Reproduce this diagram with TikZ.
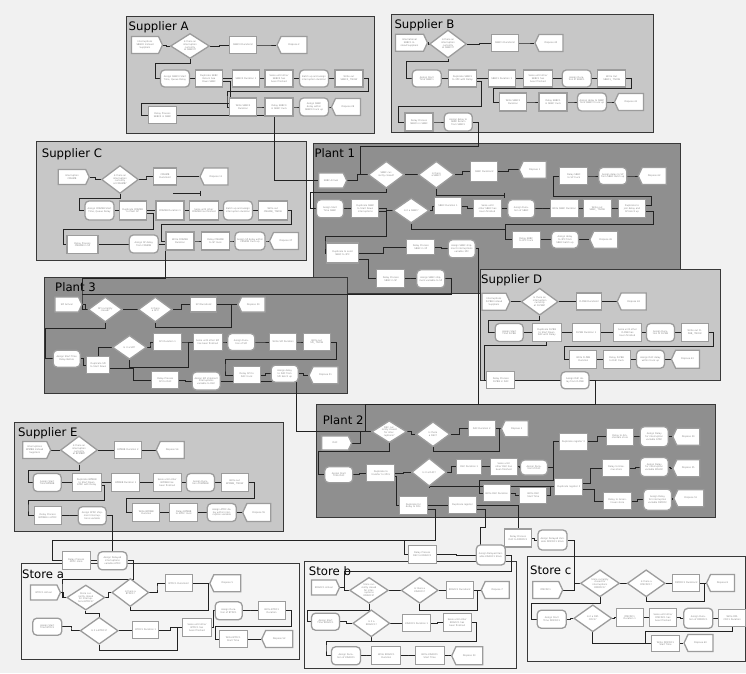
\documentclass[tikz,border=0pt]{standalone}
\usepackage{fontspec}
\setmainfont{DejaVu Sans}
\usetikzlibrary{shapes.geometric,shapes.symbols,calc}
\definecolor{bgc}{HTML}{F1F1F1}
\definecolor{supc}{HTML}{C7C7C7}
\definecolor{plc}{HTML}{8F8F8F}
\definecolor{stc}{HTML}{F4F4F4}
\definecolor{pbord}{HTML}{383838}
\definecolor{nbord}{HTML}{9C9C9C}
\definecolor{ntext}{HTML}{858585}
\definecolor{lcol}{HTML}{222222}
\pgfdeclarelayer{bg}\pgfdeclarelayer{lines}\pgfsetlayers{bg,lines,main}
\newcommand\nfont{\fontsize{2.3}{2.7}\selectfont}
\newcommand\tfont{\fontsize{11.7}{14}\selectfont}
\tikzset{
 tw/.code={\pgfmathsetlengthmacro\mytw{#1}\edef\mytwnext{\noexpand\tikzset{text width=\mytw}}\mytwnext},
 nb/.style={draw=nbord, line width=1.3pt, fill=white, inner sep=0.4pt, text=ntext, font=\nfont, align=center},
 proc/.style 2 args={nb, rectangle, minimum width=#1pt, minimum height=#2pt, tw={#1pt-4pt}},
 asg/.style 2 args={proc={#1}{#2}, rounded corners=4pt},
 dec/.style 2 args={nb, diamond, aspect=1.6, minimum width=#1pt, minimum height=#2pt, tw={#1pt*0.45}},
 crt/.style 2 args={nb, signal, signal to=east, signal pointer angle=130, minimum width=#1pt, minimum height=#2pt, tw={#1pt-9pt}},
 dsp/.style 2 args={nb, signal, signal to=west, signal pointer angle=130, minimum width=#1pt, minimum height=#2pt, tw={#1pt-9pt}},
 conn/.style={draw=lcol, line width=0.7pt},
 stepto/.style={to path={-| ($(\tikztostart)!0.5!(\tikztotarget)$) |- (\tikztotarget)}},
 panel/.style={draw=pbord, line width=0.8pt},
 ptitle/.style={anchor=base west, inner sep=0pt, font=\tfont, text=black},
}
\newcommand\nPR[6]{\node[proc={#4}{#5}] (#1) at (#2,#3) {#6};}
\newcommand\nAS[6]{\node[asg={#4}{#5}] (#1) at (#2,#3) {#6};}
\newcommand\nDE[6]{\node[dec={#4}{#5}] (#1) at (#2,#3) {#6};}
\newcommand\nCR[6]{\node[crt={#4}{#5}] (#1) at (#2,#3) {#6};}
\newcommand\nDS[6]{\node[dsp={#4}{#5}] (#1) at (#2,#3) {#6};}
\newcommand\hlink[2]{\draw[conn] (#1.east) to[stepto] (#2.west);}
\begin{document}
\begin{tikzpicture}[x=1pt,y=-1pt]
\useasboundingbox (0,0) rectangle (746,673);
\begin{pgfonlayer}{bg}
\fill[bgc] (0,0) rectangle (746,673);
\draw[panel,fill=plc] (313.3,143) rectangle (680,293); \node[ptitle] at (314.3,157) {Plant 1};
\draw[panel,fill=supc] (126,16) rectangle (374,133); \node[ptitle] at (128.5,30.5) {Supplier A};
\draw[panel,fill=supc] (391.7,14) rectangle (653.3,132); \node[ptitle] at (394.3,28.5) {Supplier B};
\draw[panel,fill=supc] (36.7,141) rectangle (306,260); \node[ptitle] at (41.7,157.5) {Supplier C};
\draw[panel,fill=plc] (44.3,277) rectangle (347,393); \node[ptitle] at (55,291) {Plant 3};
\draw[panel,fill=supc] (480,269) rectangle (720,380); \node[ptitle] at (481,283.5) {Supplier D};
\draw[panel,fill=plc] (316,404) rectangle (715,517); \node[ptitle] at (322.7,424) {Plant 2};
\draw[panel,fill=supc] (14,422.3) rectangle (283,531.7); \node[ptitle] at (18,436.5) {Supplier E};
\draw[panel,fill=stc] (21.3,563.3) rectangle (299.5,659.3); \node[ptitle] at (22,578.5) {Store a};
\draw[panel,fill=stc] (304,561.7) rectangle (516.3,668.3); \node[ptitle] at (308.7,575.5) {Store b};
\draw[panel,fill=stc] (527.3,556.7) rectangle (745.6,661.7); \node[ptitle] at (530,574.5) {Store c};
\end{pgfonlayer}

% ---------- Supplier A
\nCR{aC}{145}{45}{31}{17}{Interruptions SBBC0 Instead Suppliers}
\nDE{aD1}{190}{46}{39}{25}{Is there an interruption currently at SBBC0?}
\nPR{aP1}{243}{45}{27}{17}{SBBC0 Duration2}
\nDS{aX1}{294}{45}{30}{17}{Dispose 2}
\nAS{aA1}{175}{78.5}{29}{17}{Assign SBBC0 Start Time, Queue Delay}
\nPR{aU1}{209}{78.5}{27}{17}{Duplicate SBBC Return Sea Down SBBC}
\nPR{aP2}{246}{78.5}{27}{17}{SBBC0 Duration 1}
\nPR{aS1}{279}{78.5}{28}{17}{Seize until other SBBC0 has been finished}
\nAS{aB1}{314}{78.5}{29}{17}{Batch up and assign interruption duration}
\nPR{aW1}{349}{78.5}{28}{17}{Write out SBBC0\_ TNOW}
\nPR{aW2}{243}{107}{27}{18}{Write SBBC0 Duration}
\nPR{aL1}{279}{107}{28}{18}{Delay SBBC0 in SBBC truck}
\nAS{aA2}{314}{107}{29}{18}{Assign SBBC delay within SBBC0 truck up}
\nDS{aX2}{348}{107}{29}{17}{Dispose 28}
\nPR{aL2}{162.5}{115}{28}{17}{Delay Process SBBC0 in SBBC}
% ---------- Supplier B
\nCR{bC}{409.5}{42.7}{32}{17}{International SBBC1 Instead Suppliers}
\nDE{bD1}{448}{44}{37}{28}{Is there an interruption currently at SBBC1?}
\nPR{bP1}{505}{43}{27}{17}{SBBC1 Duration2}
\nDS{bX1}{551}{43}{28}{17}{Dispose 45}
\nAS{bA1}{426.7}{78.5}{29}{17}{Assign Start Time SBBC1}
\nPR{bU1}{462.5}{78.5}{28}{17}{Duplicate SBBC1 to 3PC with Delay}
\nPR{bP2}{501.7}{78.5}{27}{17}{SBBC1 Duration 1}
\nPR{bS1}{538}{78.5}{29}{17}{Seize until other SBBC1 has been finished}
\nAS{bA3}{576.7}{78.5}{29}{17}{Assign Duration of SBBC1}
\nPR{bW1}{611.7}{78.5}{28}{17}{Write Out SBBC1\_ TNOW}
\nPR{bW2}{513}{102}{27}{18}{Write SBBC1 Duration}
\nPR{bL1}{553}{102}{28}{18}{Delay SBBC1 in SBBC truck}
\nAS{bA2}{592}{102}{29}{18}{Assign delay to SBBC from SBBC1 truck up}
\nDS{bX2}{631}{102}{29}{17}{Dispose 41}
\nPR{bL2}{419}{122}{28}{18}{Delay Process SBBC1 in SBBC}
\nAS{bA4}{458.3}{122}{28}{18}{Assign delay to SBBC Return from SBBC1}
% ---------- Supplier C
\nCR{cC}{72}{177}{31}{15}{Interruption CMHMB}
\nDE{cD1}{120}{179.5}{37}{28}{Is there an interruption currently at CMHMB?}
\nPR{cP1}{165}{176.5}{23}{17}{CMHMB Duration2}
\nDS{cX1}{216}{176.5}{28}{17}{Dispose 11}
\coordinate (cTick) at (200.7,193.3);
\nAS{cA1}{99.5}{210.5}{29}{19}{Assign CMHMB Start Time, Queue Delay}
\nPR{cU1}{132.7}{210.5}{27}{19}{Duplicate CMHMB to Plant SP}
\nPR{cP2}{170}{210.5}{28}{19}{CMHMB Duration 1}
\nPR{cS1}{203.8}{210.5}{29}{19}{Seize until other CMHMB has finished}
\nAS{cB1}{238}{210.5}{29}{19}{Batch up and assign interruption duration}
\nPR{cW1}{272.8}{210.5}{29}{19}{Write out CMHMB\_ TNOW}
\nPR{cW2}{180}{241}{28}{18}{Write CMHMB Duration}
\nPR{cL1}{215.5}{241}{28}{18}{Delay CMHMB to SP truck}
\nAS{cA2}{250}{241}{30}{18}{Assign SP delay within CMHMB truck up}
\nDS{cX2}{286}{241}{29}{17}{Dispose 37}
\nPR{cL2}{82.5}{244.5}{31}{18}{Delay Process CMHMB in SP}
\nAS{cA3}{143.8}{244}{29}{18}{Assign SP delay from CMHMB}
% ---------- Plant 1
\nCR{qC}{331}{180.5}{28}{15}{SBBC Arrival}
\nDE{qD1}{386.3}{174.7}{36}{27}{SBBC currently closed?}
\nDE{qD2}{436.3}{174.7}{36}{27}{Is there a SBBC?}
\nPR{qP1}{484.3}{171.3}{27}{20}{SBBC Duration2}
\nDS{qX1}{534.7}{169.7}{27}{17}{Dispose 1}
\nPR{qL1}{573.8}{176}{28}{17}{Delay SBBC to SP truck}
\nAS{qA1}{612.8}{176}{28}{17}{Assign delay to SP from SBBC batch up}
\nDS{qX2}{654.2}{176}{28}{17}{Dispose 62}
\nAS{qA2}{330}{208.8}{27}{18}{Assign Start Time SBBC}
\nPR{qU1}{365.3}{208.8}{27}{18}{Duplicate SBBC to Start Down Interruptions}
\nDE{qD3}{411.2}{210.5}{36}{25}{Is it a SBBC?}
\nPR{qP2}{448}{206}{27}{17}{SBBC Duration 1}
\nPR{qS1}{487.5}{208.8}{28}{18}{Seize until other SBBC has been finished}
\nAS{qA3}{521.3}{208.8}{27}{18}{Assign Duration of SBBC}
\nPR{qW1}{564.2}{208.8}{28}{18}{Write SBBC Duration}
\nPR{qW2}{597.2}{208.8}{28}{18}{Write out SBBC\_ TNOW}
\nPR{qU2}{632}{208.8}{27}{18}{Duplicate to join delay and SP batch up}
\nPR{qL2}{526.2}{239.7}{28}{17}{Delay SBBC to 3PC truck}
\nAS{qA4}{565}{239.7}{27}{17}{Assign delay to 3PC from SBBC batch up}
\nDS{qX3}{605.8}{239.7}{28}{17}{Dispose 26}
\nPR{qU3}{342.5}{253}{32}{20}{Duplicate to send SBBC to 3PC}
\nPR{qL3}{420.8}{247.2}{28}{15}{Delay Process SBBC in 3P}
\nAS{qA5}{461.7}{248.8}{27}{18}{Assign SBBC shipment interruptions variable 3PC}
\nPR{qL4}{390.8}{278.8}{28}{18}{Delay Process SBBC in SP}
\nAS{qA6}{430.8}{278.8}{28}{18}{Assign SBBC shipment variable to SP}
% ---------- Plant 3
\nCR{rC}{66.7}{304.5}{27}{15}{SPI Arrival}
\nDE{rD1}{105.3}{309.5}{34}{25}{SPI currently closed?}
\nDE{rD2}{155.3}{309.5}{34}{25}{Is there a SPI?}
\nPR{rP1}{203.8}{304.5}{26}{15}{SPI Duration2}
\nDS{rX1}{253.3}{304.5}{27}{15}{Dispose 50}
\nAS{rA1}{66.7}{358.7}{27}{17}{Assign Start Time Delay Before}
\nPR{rU1}{98.3}{365.3}{23}{17}{Duplicate SPI to Start Down}
\nDE{rD3}{129.5}{347.3}{34}{24}{Is it a SPI?}
\nPR{rP2}{167.5}{342}{28}{17}{SPI Duration 1}
\nPR{rS1}{207.8}{342}{29}{17}{Seize until other SPI has been finished}
\nAS{rA2}{241.3}{342}{27}{17}{Assign Duration of SPI}
\nPR{rW1}{283.3}{342}{27}{17}{Write SPI Duration}
\nPR{rW2}{316.7}{342}{27}{17}{Write out SPI\_ TNOW}
\nPR{rL1}{165.3}{380.3}{27}{17}{Delay Process SPI to D4C}
\nAS{rA3}{206.2}{381}{28}{18}{Assign SPI shipment interruptions variable to D4C}
\nPR{rL2}{246.7}{375.3}{27}{17}{Delay SPI to D4C truck}
\nAS{rA4}{284.7}{373.7}{27}{17}{Assign delay to D4C from SPI batch up}
\nDS{rX2}{325.5}{375.3}{29}{17}{Dispose 51}
% ---------- Supplier D
\nCR{dC}{494}{301.7}{28}{17}{Interruptions D-PBB Instead Suppliers}
\nDE{dD1}{539.7}{301.7}{37}{27}{Is there an interruption currently at D-PBB?}
\nPR{dP1}{589.2}{301.5}{25}{17}{D-PBB Duration2}
\nDS{dX1}{633.7}{301.5}{29}{17}{Dispose 42}
\nAS{dA1}{509.2}{332.5}{28}{18}{Assign Start Time D-PBB}
\nPR{dU1}{546.7}{332.5}{29}{18}{Duplicate D-PBB to Start Down D4C with Delay}
\nPR{dP2}{586.2}{332.5}{28}{18}{D-PBB Duration 1}
\nPR{dS1}{627.5}{332.5}{28}{18}{Seize until other D-PBB has been finished}
\nAS{dA2}{660.5}{332.5}{28}{18}{Assign Duration of D-PBB}
\nPR{dW1}{694.7}{332.5}{27}{18}{Write out D-PBB\_ TNOW}
\nPR{dW2}{583.3}{359.2}{27}{18}{Write D-PBB Duration}
\nPR{dL1}{616.7}{359.2}{27}{18}{Delay D-PBB to D4C truck}
\nAS{dA3}{650.5}{359.2}{28}{18}{Assign D4C delay within truck up}
\nDS{dX2}{687.5}{359.2}{28}{18}{Dispose 43}
\nPR{dL2}{500.8}{380.3}{28}{17}{Delay Process D-PBB in D4C}
\nAS{dA4}{575}{380.3}{28}{17}{Assign D4C delay from D-PBB}
% ---------- Plant 2
\nCR{sC}{335}{443}{30}{14}{D4C}
\nDE{sD1}{389.2}{431.7}{35}{22}{D4C currently closed for interruptions?}
\nDE{sD2}{433}{434.2}{34}{25}{Is there a D4C?}
\nPR{sP1}{481.7}{428.7}{27}{16}{D4C Duration 2}
\nDS{sX1}{516.7}{428.7}{27}{16}{Dispose 3}
\nPR{sU4}{573.3}{441.7}{28}{17}{Duplicate register 3}
\nPR{sL4}{620}{436.7}{27}{17}{Delay to Amsterdam store}
\nAS{sA4}{654.2}{436.7}{28}{20}{Assign Delay for interruption variable ATDC}
\nDS{sX4}{688.3}{436.7}{27}{17}{Dispose 50}
\nAS{sA1}{338.8}{474.7}{28}{16}{Assign Start Time D4C}
\nPR{sU1}{380.8}{473.3}{28}{17}{Duplicate to transfer to 3PCs}
\nDE{sD3}{429.2}{472.2}{35}{28}{Is it a D4C?}
\nPR{sP2}{469.2}{466.7}{25}{15}{D4C Duration 1}
\nPR{sS1}{503.7}{466.7}{27}{17}{Seize until other D4C has been finished}
\nAS{sA2}{534}{467.5}{27}{15}{Assign Duration of D4C}
\nPR{sW1}{496.7}{493.3}{27}{17}{Write D4C Duration}
\nPR{sW2}{533.3}{495.3}{27}{16}{Write D4C Start Time}
\nPR{sU5}{568.8}{486.7}{28}{17}{Duplicate register 5}
\nPR{sL5}{616.3}{468.3}{27}{17}{Delay to Erasmus store}
\nAS{sA5}{654.2}{467}{28}{19}{Assign Delay for interruption variable KDAOC}
\nDS{sX5}{688.3}{468.3}{27}{17}{Dispose 55}
\nPR{sL6}{617.5}{501}{28}{17}{Delay to Groenhoven store}
\nAS{sA6}{657.5}{499.7}{28}{21}{Assign Delay for interruption variable DMCDC}
\nDS{sX6}{690.8}{498.3}{30}{17}{Dispose 51}
\nPR{sU2}{413.3}{505.8}{28}{18}{Duplicate for delay to DCs}
\nPR{sU3}{462.5}{505}{28}{17}{Duplicate register}
% ---------- Supplier E
\nCR{eC}{34.7}{450}{28}{17}{Interruptions BPMBB Instead Suppliers}
\nDE{eD1}{79}{450}{37}{28}{Is there an interruption currently at BPMBB?}
\nPR{eP1}{128}{450}{27}{17}{BPMBB Duration 2}
\nDS{eX1}{172.2}{450}{28}{17}{Dispose 54}
\nAS{eA1}{47.2}{482.5}{28}{18}{Assign Start Time BPMBB}
\nPR{eU1}{86.7}{482.5}{29}{18}{Duplicate BPMBB to Start Down ATDC with Delay}
\nPR{eP2}{125.8}{482.5}{28}{18}{BPMBB Duration 1}
\nPR{eS1}{167.2}{482.5}{28}{18}{Seize until other BPMBB has been finished}
\nAS{eA2}{200.5}{482.5}{28}{18}{Assign Duration of BPMBB}
\nPR{eW1}{234.7}{482.5}{27}{18}{Write out BPMBB\_ TNOW}
\nPR{eW2}{146.3}{512.5}{27}{18}{Write BPMBB Duration}
\nPR{eL1}{183.8}{512.5}{28}{18}{Delay BPMBB to ATDC truck}
\nAS{eA3}{221.8}{512.5}{29}{18}{Assign ATDC delay within interruption variable}
\nDS{eX2}{258.8}{512.5}{28}{18}{Dispose 55}
\nPR{eL2}{47.7}{515.8}{27}{18}{Delay Process BPMBB in ATDC}
\nAS{eA4}{92.2}{515.8}{28}{18}{Assign ATDC shipment interruptions variable}
% ---------- Store a
\nPR{taL}{76.2}{560.5}{28}{18}{Delay Process ATDC store}
\nAS{taA}{112.5}{560.8}{29}{18}{Assign Delayed interruptions variable ATDC}
\nCR{taC}{43.7}{592.5}{30}{15}{BTDC1 Arrival}
\nDE{taD1}{85.8}{597.5}{38}{25}{Store currently closed for interruptions BTDC1?}
\nDE{taD2}{130.3}{592.5}{37}{28}{Is there a BTDC1?}
\nPR{taP1}{178.7}{583.3}{27}{17}{BTDC1 Duration2}
\nDS{taX1}{227.3}{583.3}{31}{17}{Dispose 5}
\nAS{taA1}{47.3}{626.7}{29}{17}{Assign Start Time BTDC1}
\nDE{taD3}{99.2}{630.7}{38}{27}{Is it a BTDC1?}
\nPR{taP2}{145.7}{630}{26}{17}{BTDC1 Duration 1}
\nPR{taS1}{197}{627.5}{29}{18}{Seize until other BTDC1 has been finished}
\nAS{taA2}{228.7}{610.8}{27}{18}{Assign Duration of BTDC1}
\nPR{taW1}{271.7}{610.8}{27}{18}{Write BTDC1 Duration}
\nPR{taW2}{233.2}{639}{28}{17}{Write BTDC1 Start Time}
\nDS{taX2}{279.2}{639}{31}{17}{Dispose 52}
% ---------- Store b
\nPR{tbL}{422.2}{554.2}{28}{18}{Delay Process D4C to KDAOC1}
\nAS{tbA}{490.8}{555}{29}{20}{Assign Delayed Variable KDAOC1 Store}
\nCR{tbC}{323.8}{587.5}{28}{15}{KDAOC1 Arrival}
\nDE{tbD1}{369}{590.3}{37}{26}{Store currently closed for interruptions KDAOC1?}
\nDE{tbD2}{419.7}{590.3}{37}{26}{Is there a KDAOC1?}
\nPR{tbP1}{459.7}{590}{27}{17}{KDAOC1 Duration2}
\nDS{tbX1}{497.2}{590}{28}{17}{Dispose 7}
\nAS{tbA1}{325.5}{621.7}{28}{17}{Assign Start Time KDAOC1}
\nDE{tbD3}{371.3}{623.3}{37}{27}{Is it a KDAOC1?}
\nPR{tbP2}{416.8}{623.3}{28}{17}{KDAOC1 Duration 1}
\nPR{tbS1}{457.2}{622.8}{28}{18}{Seize until other KDAOC1 has been finished}
\nAS{tbA2}{346}{655.8}{29}{18}{Assign Duration of KDAOC1}
\nPR{tbW1}{386.3}{655.8}{29}{18}{Write KDAOC1 Duration}
\nPR{tbW2}{429.7}{655.8}{29}{18}{Write KDAOC1 Start Time}
\nDS{tbX2}{469.3}{655.8}{31}{18}{Dispose 53}
% ---------- Store c
\nPR{tcL}{518}{538}{27}{18}{Delay Process D4C to DMCDC1}
\nAS{tcA}{552.5}{540}{29}{20}{Assign Delayed Variable DMCDC1 Store}
\nCR{tcC}{545.7}{590}{30}{17}{DMCDC1}
\nDE{tcD1}{600}{583.3}{39}{27}{Store currently closed for interruptions DMCDC1?}
\nDE{tcD2}{646.2}{583.3}{38}{27}{Is there a DMCDC1?}
\nPR{tcP1}{686.3}{583}{27}{17}{DMCDC1 Duration2}
\nDS{tcX1}{722.5}{583}{28}{17}{Dispose 8}
\nAS{tcA1}{551.7}{619.2}{29}{18}{Assign Start Time DMCDC1}
\nDE{tcD3}{592.8}{618.3}{38}{27}{Is it a DMCDC1?}
\nPR{tcP2}{629.7}{617.5}{27}{18}{DMCDC1 Duration 1}
\nPR{tcS1}{663}{617.5}{27}{18}{Seize until other DMCDC1 has been finished}
\nAS{tcA2}{698.3}{618.3}{29}{20}{Assign Duration of DMCDC1}
\nPR{tcW1}{732.2}{618.3}{27}{17}{Write DMCDC1 Duration}
\nPR{tcW2}{665.5}{643.7}{28}{16}{Write DMCDC1 Start Time}
\nDS{tcX2}{700.5}{643}{29}{17}{Dispose 60}

\begin{pgfonlayer}{lines}
% Supplier A
\hlink{aC}{aD1}\hlink{aD1}{aP1}\hlink{aP1}{aX1}
\draw[conn] (aD1.south) |- (155,63.3) |- (aA1.west);
\hlink{aA1}{aU1}\hlink{aU1}{aP2}\hlink{aP2}{aS1}\hlink{aS1}{aB1}\hlink{aB1}{aW1}
\draw[conn] (aW1.east) -| (368,91.5) -| (227,100) |- (aW2.west);
\draw[conn] ([yshift=-3pt]aU1.east) -| (230,103) -| (141.7,110) |- (aL2.west);
\hlink{aW2}{aL1}\hlink{aL1}{aA2}\hlink{aA2}{aX2}
\draw[conn] (aL2.east) -| (274,180.5) -- (qC.west);
% Supplier B
\hlink{bC}{bD1}\hlink{bD1}{bP1}\hlink{bP1}{bX1}
\draw[conn] (bD1.south) |- (406.7,61.3) |- (bA1.west);
\hlink{bA1}{bU1}\hlink{bU1}{bP2}\hlink{bP2}{bS1}\hlink{bS1}{bA3}\hlink{bA3}{bW1}
\draw[conn] (bW1.east) -| (631.7,88) -| (493.3,95) |- (bW2.west);
\draw[conn] ([yshift=-3pt]bU1.east) -| (481,106) -| (398.3,112) |- (bL2.west);
\hlink{bW2}{bL1}\hlink{bL1}{bA2}\hlink{bA2}{bX2}
\hlink{bL2}{bA4}
\draw[conn] (bA4.east) -| (478.3,146.3) -| (360,174.7) -- (qD1.west);
% Supplier C
\hlink{cC}{cD1}\hlink{cD1}{cP1}\hlink{cP1}{cX1}
\draw[conn] (173.3,193.3) -- (cTick);
\draw[conn] ([yshift=2.5pt]cTick) -- ([yshift=-2.5pt]cTick);
\draw[conn] (cD1.south) |- (79.3,198.3) |- (cA1.west);
\hlink{cA1}{cU1}\hlink{cU1}{cP2}\hlink{cP2}{cS1}\hlink{cS1}{cB1}\hlink{cB1}{cW1}
\draw[conn] (cW1.east) -| (291.7,224.3) -| (161.7,232) |- (cW2.west);
\draw[conn] ([yshift=-3pt]cU1.east) -| (153.3,229) -| (63.3,238) |- (cL2.west);
\hlink{cW2}{cL1}\hlink{cL1}{cA2}\hlink{cA2}{cX2}
\hlink{cL2}{cA3}
\draw[conn] (cA3.east) -| (165,278) -| (82,300) |- (rD1.west);
% Plant 1
\hlink{qC}{qD1}\hlink{qD1}{qD2}\hlink{qD2}{qP1}\hlink{qP1}{qX1}
\draw[conn] (qD1.south) |- (310,192) |- (qA2.west);
\coordinate (qTick) at (504,195);
\draw[conn] (qD2.south) |- (qTick);
\draw[conn] ([yshift=2.5pt]qTick) -- ([yshift=-2.5pt]qTick);
\hlink{qA2}{qU1}\hlink{qU1}{qD3}\hlink{qD3}{qP2}\hlink{qP2}{qS1}\hlink{qS1}{qA3}\hlink{qA3}{qW1}\hlink{qW1}{qW2}\hlink{qW2}{qU2}
\draw[conn] (qD3.south) |- (505,229.7) |- (qL2.west);
\draw[conn] ([yshift=3pt]qU2.east) -| (651.7,196.3) -| (553.3,186) |- (qL1.west);
\draw[conn] ([yshift=-3pt]qU2.east) -| (653,224.7) -| (505,232);
\hlink{qL1}{qA1}\hlink{qA1}{qX2}\hlink{qL2}{qA4}\hlink{qA4}{qX3}
\draw[conn] ([yshift=-3pt]qU1.east) -| (386.7,236.3) -| (325,245) |- (qU3.west);
\draw[conn] (qU3.east) -| (383.3,250) |- (qL3.west);
\draw[conn] ([yshift=-6pt]qU3.east) -| (368.3,270) |- (qL4.west);
\hlink{qL3}{qA5}\hlink{qL4}{qA6}
\draw[conn] (qA5.east) -| (478,404);
\draw[conn] (qA6.east) -| (451.7,294.7) -- (82,294.7);
% Plant 3
\hlink{rC}{rD1}\hlink{rD1}{rD2}\hlink{rD2}{rP1}\hlink{rP1}{rX1}
\draw[conn] (rD1.south) |- (45.5,328.7) |- (rA1.west);
\draw[conn] (rD2.south) |- (231.7,327) |- (rX1.west);
\hlink{rA1}{rU1}
\draw[conn] (rU1.north) |- (rD3.west);
\hlink{rD3}{rP2}\hlink{rP2}{rS1}\hlink{rS1}{rA2}\hlink{rA2}{rW1}\hlink{rW1}{rW2}
\draw[conn] (rD3.south) |- (188.3,367) |- (rS1.west);
\draw[conn] (rW2.east) -| (336.7,359.3) -| (225,368) |- (rL2.west);
\draw[conn] ([yshift=-3pt]rU1.east) -| (133.3,380.3) -- (rL1.west);
\hlink{rL1}{rA3}\hlink{rL2}{rA4}\hlink{rA4}{rX2}
\draw[conn] (rA3.east) -| (296.7,431.7) -- (sD1.west);
% Supplier D
\hlink{dC}{dD1}\hlink{dD1}{dP1}\hlink{dP1}{dX1}
\draw[conn] (dD1.south) |- (488.3,320) |- (dA1.west);
\hlink{dA1}{dU1}\hlink{dU1}{dP2}\hlink{dP2}{dS1}\hlink{dS1}{dA2}\hlink{dA2}{dW1}
\draw[conn] (dW1.east) -| (713.3,346) -| (564.3,352) |- (dW2.west);
\draw[conn] (dU1.south) |- (484,345) |- (dL2.west);
\hlink{dW2}{dL1}\hlink{dL1}{dA3}\hlink{dA3}{dX2}
\hlink{dL2}{dA4}
\draw[conn] (dA4.east) -| (595,404) -| (365,431.7);
% Plant 2
\draw[conn] (sC.east) -| (360,431.7);
\hlink{sD1}{sD2}\hlink{sD2}{sP1}\hlink{sP1}{sX1}
\draw[conn] (sD1.south) |- (318.3,451.7) |- (sA1.west);
\draw[conn] (sD2.south) |- (499,451.7) |- (sX1.west);
\hlink{sA1}{sU1}\hlink{sU1}{sD3}\hlink{sD3}{sP2}\hlink{sP2}{sS1}\hlink{sS1}{sA2}
\draw[conn] (sD3.south) |- (sU5.west);
\draw[conn] (sA2.east) -| (553.3,441.7) -- (sU4.west);
\draw[conn] (553.3,467.5) |- (479,480) |- (sW1.west);
\hlink{sW1}{sW2}\hlink{sW2}{sU5}
\draw[conn] ([yshift=3pt]sU5.east) -| (590,468.3) -- (sL5.west);
\draw[conn] ([yshift=-3pt]sU5.east) -| (594,501) -- (sL6.west);
\hlink{sU4}{sL4}\hlink{sL4}{sA4}\hlink{sA4}{sX4}
\hlink{sL5}{sA5}\hlink{sA5}{sX5}\hlink{sL6}{sA6}\hlink{sA6}{sX6}
\draw[conn] ([yshift=-3pt]sU1.east) -| (396.7,505.8) -- (sU2.west);
\hlink{sU2}{sU3}
\draw[conn] ([yshift=-4pt]sU2.east) -| (435,540) -- (52,540) |- (taL.west);
\draw[conn] (404,540) |- (tbL.west);
\draw[conn] ([yshift=-4pt]sU3.east) -| (485,527) -| (480,545.3);
\draw[conn] (sU3.east) -| (tcL.north);
% Supplier E
\hlink{eC}{eD1}\hlink{eD1}{eP1}\hlink{eP1}{eX1}
\draw[conn] (eD1.south) |- (28,470) |- (eA1.west);
\hlink{eA1}{eU1}\hlink{eU1}{eP2}\hlink{eP2}{eS1}\hlink{eS1}{eA2}\hlink{eA2}{eW1}
\draw[conn] (eW1.east) -| (254.7,498.3) -| (126.3,505) |- (eW2.west);
\draw[conn] ([yshift=-3pt]eU1.east) -| (104.7,500) -| (28,508) |- (eL2.west);
\hlink{eW2}{eL1}\hlink{eL1}{eA3}\hlink{eA3}{eX2}
\hlink{eL2}{eA4}
\draw[conn] (eA4.east) -| (taA.north);
% Store a
\hlink{taL}{taA}
\draw[conn] (taA.east) -| (133.7,579) -| (62,588) |- (taD1.west);
\hlink{taC}{taD1}\hlink{taD1}{taD2}\hlink{taD2}{taP1}\hlink{taP1}{taX1}
\draw[conn] (taD1.south) |- (99.2,613.5) -- (taD3.north);
\hlink{taA1}{taD3}\hlink{taD3}{taP2}\hlink{taP2}{taS1}\hlink{taS1}{taA2}\hlink{taA2}{taW1}
\draw[conn] (taD2.south) |- (208,610) |- (taX1.west);
\draw[conn] (taD3.south) |- (177,650) |- (taS1.west);
\draw[conn] (taW1.east) -| (291.3,626) -| (215.3,632) |- (taW2.west);
\hlink{taW2}{taX2}
% Store b
\hlink{tbL}{tbA}
\draw[conn] (tbA.east) -| (511.3,571.7) -| (344.7,580) |- (tbD1.west);
\hlink{tbC}{tbD1}\hlink{tbD1}{tbD2}\hlink{tbD2}{tbP1}\hlink{tbP1}{tbX1}
\draw[conn] (tbD1.south) |- (307,610) |- (tbA1.west);
\draw[conn] (tbD2.south) |- (477,610) |- (tbX1.west);
\hlink{tbA1}{tbD3}\hlink{tbD3}{tbP2}\hlink{tbP2}{tbS1}
\draw[conn] (tbS1.east) -| (476,641) -| (326,648) |- (tbA2.west);
\draw[conn] (tbD3.south) -- (371.3,641);
\hlink{tbA2}{tbW1}\hlink{tbW1}{tbW2}\hlink{tbW2}{tbX2}
% Store c
\hlink{tcL}{tcA}
\draw[conn] (tcA.east) -| (574,583.3) -- (tcD1.west);
\draw[conn] (tcC.east) -| (574,583.3);
\hlink{tcD1}{tcD2}\hlink{tcD2}{tcP1}\hlink{tcP1}{tcX1}
\draw[conn] (tcD1.south) |- (531.7,603.3) |- (tcA1.west);
\draw[conn] (tcD2.south) |- (704,601) |- (tcX1.west);
\hlink{tcA1}{tcD3}\hlink{tcD3}{tcP2}\hlink{tcP2}{tcS1}\hlink{tcS1}{tcA2}\hlink{tcA2}{tcW1}
\draw[conn] (tcD3.south) |- (tcW2.west);
\draw[conn] (tcW1.south) |- (645,631.7) |- (tcW2.west);
\hlink{tcW2}{tcX2}
\end{pgfonlayer}
\end{tikzpicture}
\end{document}
